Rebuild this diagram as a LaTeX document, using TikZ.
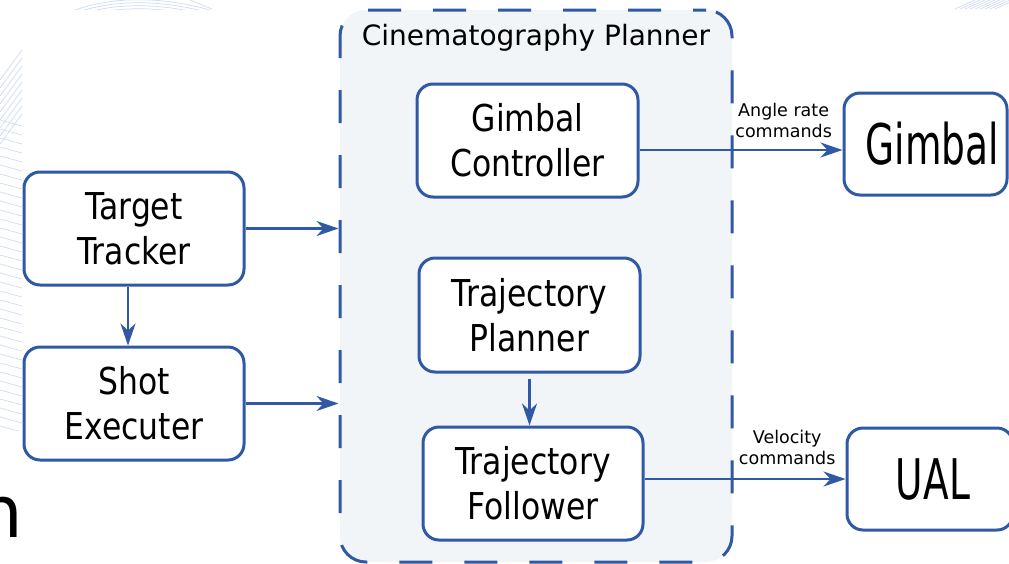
\documentclass[tikz,border=0pt]{standalone}
\usepackage{fontspec}
\setmainfont{DejaVu Sans}
\newfontfamily\boxfont[FakeStretch=0.85]{DejaVu Sans}
\newfontfamily\bigfont[FakeStretch=0.67]{DejaVu Sans}
\usetikzlibrary{arrows.meta}
\definecolor{cblue}{RGB}{47,88,165}
\definecolor{cfill}{RGB}{242,245,247}
\definecolor{wmark}{RGB}{208,218,240}
\tikzset{
  blk/.style={draw=cblue, line width=3pt, rounded corners=16pt, fill=white,
    align=center, inner sep=0pt, font=\boxfont\fontsize{37}{45}\selectfont},
  bigblk/.style={blk, font=\bigfont\fontsize{56}{60}\selectfont},
  container/.style={draw=cblue, line width=3pt, rounded corners=26pt, fill=cfill,
    dash pattern=on 33pt off 32pt, dash phase=20pt, inner sep=0pt},
  arr/.style={draw=cblue, line width=2.4pt, -{Stealth[length=22pt,width=15pt,inset=7pt]}},
  lbl/.style={font=\fontsize{17.5}{21}\selectfont, align=center, inner sep=0pt},
  wm/.style={draw=wmark, line width=0.7pt}
}
\begin{document}
\begin{tikzpicture}[x=1pt,y=-1pt]
\useasboundingbox (0,0) rectangle (1009,563);
% faint background watermark
\begin{scope}
  \clip (0,50) rectangle (22,430);
  \foreach \y in {50,58,...,120} {\draw[wm] (0,\y+30) -- (22,\y);}
  \foreach \y in {120,129,...,430} {\draw[wm] (0,\y) -- (22,\y+6);}
\end{scope}
\begin{scope}
  \clip (60,0) rectangle (330,9);
  \foreach \d in {0,3,...,9} {\draw[wm] (70,12+\d) .. controls (110,-4+\d) and (160,-4+\d) .. (210,10+\d);}
  \draw[wm] (190,0) -- (212,9);
\end{scope}
\begin{scope}
  \clip (955,0) rectangle (1009,9);
  \foreach \d in {0,5,...,40} {\draw[wm] (955+\d,9) -- (975+\d,0);}
\end{scope}
% partial text at left edge
\node[anchor=base east, inner sep=0pt, font=\fontsize{72}{72}\selectfont] (nchar) at (23,537) {n};
% container
\node[container, minimum width=392pt, minimum height=552pt] (cont) at (536,286) {};
\node[anchor=base, inner sep=0pt, font=\fontsize{28}{30}\selectfont] (title) at (536,45) {Cinematography Planner};
% blocks
\node[blk, minimum width=220pt, minimum height=113pt] (tt) at (134,228.5) {Target\\Tracker};
\node[blk, minimum width=220pt, minimum height=113pt] (se) at (134,403.5) {Shot\\Executer};
\node[blk, minimum width=221pt, minimum height=113pt] (gc) at (527.5,140.5) {Gimbal\\Controller};
\node[blk, minimum width=221pt, minimum height=114pt] (tp) at (529.5,315) {Trajectory\\Planner};
\node[blk, minimum width=220pt, minimum height=113pt] (tf) at (533,483.5) {Trajectory\\Follower};
\node[bigblk, minimum width=163pt, minimum height=102pt] (gim) at (925.5,144) {\hspace*{14pt}Gimbal};
\node[bigblk, minimum width=166pt, minimum height=102pt] (ual) at (930,479) {\hspace*{6pt}UAL};
% connectors
\draw[arr] ([xshift=-6pt]tt.south) -- ([xshift=-6pt]se.north);
\draw[arr] (tt.east) -- (tt.east -| cont.west);
\draw[arr] (se.east) -- (se.east -| cont.west);
\draw[arr, shorten <=5pt] (tp.south) -- (tp.south |- tf.north);
\draw[arr] ([yshift=-9.5pt]gc.east) -- ([yshift=-9.5pt]gc.east -| gim.west)
  node[lbl, pos=0.71, above=11pt] {Angle rate\\commands};
\draw[arr] ([yshift=4.5pt]tf.east) -- ([yshift=4.5pt]tf.east -| ual.west)
  node[lbl, pos=0.71, above=13pt] {Velocity\\commands};
\end{tikzpicture}
\end{document}
